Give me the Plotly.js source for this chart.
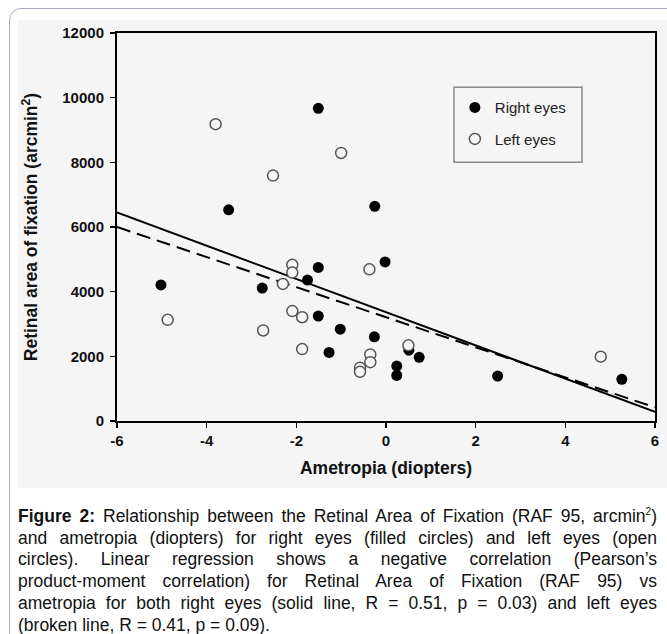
<!DOCTYPE html>
<html>
<head>
<meta charset="utf-8">
<script src="https://cdn.plot.ly/plotly-3.0.1.min.js"></script>
<style>
  html, body { margin: 0; padding: 0; background: #ffffff; width: 667px; height: 634px; overflow: hidden; }
  #frame { position: absolute; left: 9px; top: 8px; width: 720px; height: 700px;
           border: 1.5px solid #a8a8c4; border-radius: 12px; box-sizing: border-box; }
  #chart { position: absolute; left: 18px; top: 20px; width: 649px; height: 468px; }
  #caption { position: absolute; left: 18px; top: 506px; width: 639px;
             font-family: "Liberation Sans", Arial, sans-serif; font-size: 17.5px; line-height: 21.7px;
             color: #111; }
  #caption .ln { text-align: justify; text-align-last: justify; white-space: nowrap; }
  #caption .last { text-align: left; text-align-last: left; white-space: nowrap; }
  #caption sup { font-size: 10px; line-height: 0; }
</style>
</head>
<body>
<div id="frame"></div>
<div id="chart"></div>
<div id="caption">
  <div class="ln"><b>Figure 2:</b> Relationship between the Retinal Area of Fixation (RAF 95, arcmin<sup>2</sup>)</div>
  <div class="ln">and ametropia (diopters) for right eyes (filled circles) and left eyes (open</div>
  <div class="ln">circles). Linear regression shows a negative correlation (Pearson’s</div>
  <div class="ln">product-moment correlation) for Retinal Area of Fixation (RAF 95) vs</div>
  <div class="ln">ametropia for both right eyes (solid line, R = 0.51, p = 0.03) and left eyes</div>
  <div class="last">(broken line, R = 0.41, p = 0.09).</div>
</div>
<script>
// Right eyes (filled circles)
const rightX = [-1.51, -3.51, -0.25, -5.02, -2.76, -1.51, -1.75, -0.02, -1.51, -1.02, -0.26, -1.27, 0.51, 0.74, 0.24, 0.24, 2.49, 5.26];
const rightY = [9670, 6530, 6640, 4210, 4110, 4750, 4360, 4920, 3245, 2840, 2605, 2120, 2190, 1970, 1700, 1410, 1390, 1290];
// Left eyes (open circles)
const leftX = [-3.80, -2.52, -1.00, -4.87, -2.09, -2.09, -2.30, -2.09, -1.87, -2.74, -1.87, -0.37, -0.35, -0.35, -0.58, -0.58, 0.50, 4.79];
const leftY = [9180, 7590, 8290, 3130, 4830, 4590, 4240, 3400, 3210, 2800, 2225, 4690, 2060, 1820, 1650, 1520, 2340, 1990];
// Regression lines (intercept at x=0, slope per diopter)
const lineX = [-6, 6];
const rightFit = { intercept: 3365, slope: -514 };
const leftFit = { intercept: 3210, slope: -465 };
const xTicks = [-6, -4, -2, 0, 2, 4, 6];
const yTicks = [0, 2000, 4000, 6000, 8000, 10000, 12000];

const fitY = f => lineX.map(x => f.intercept + f.slope * x);
const bg = '#f5f5f5';
const font = 'Liberation Sans, Arial, sans-serif';

const traces = [
  { x: lineX, y: fitY(rightFit), mode: 'lines', line: { color: '#000', width: 2 }, showlegend: false, hoverinfo: 'skip' },
  { x: lineX, y: fitY(leftFit), mode: 'lines', line: { color: '#000', width: 2, dash: '14px,7px' }, showlegend: false, hoverinfo: 'skip' },
  { x: rightX, y: rightY, mode: 'markers', name: 'Right eyes', legendgroup: 'r',
    marker: { symbol: 'circle', size: 11, color: '#000', line: { color: '#000', width: 0 } } },
  { x: leftX, y: leftY, mode: 'markers', name: 'Left eyes', legendgroup: 'l',
    marker: { symbol: 'circle', size: 11, color: bg, line: { color: '#555', width: 1.5 } } }
];

const axisCommon = {
  showgrid: false, zeroline: false, showline: true, mirror: true,
  linecolor: '#000', linewidth: 2, ticks: 'outside', ticklen: 5, tickwidth: 1.5, tickcolor: '#000',
  tickfont: { family: font, size: 15, weight: 'bold', color: '#111' }
};

const layout = {
  width: 649, height: 468,
  margin: { l: 99, r: 12, t: 13, b: 67 },
  paper_bgcolor: bg, plot_bgcolor: bg,
  xaxis: Object.assign({}, axisCommon, {
    range: [-6, 6], tickvals: xTicks, ticktext: xTicks.map(String),
    title: { text: 'Ametropia (diopters)', font: { family: font, size: 17.5, weight: 'bold', color: '#111' }, standoff: 14 }
  }),
  yaxis: Object.assign({}, axisCommon, {
    range: [0, 12000], tickvals: yTicks, ticktext: yTicks.map(String), ticklabelstandoff: 3,
    title: { text: 'Retinal area of fixation (arcmin<sup>2</sup>)', font: { family: font, size: 17.5, weight: 'bold', color: '#111' }, standoff: 20 }
  }),
  legend: {
    x: 0.628, y: 0.850, xanchor: 'left', yanchor: 'top',
    bgcolor: 'rgba(0,0,0,0)', borderwidth: 0, itemwidth: 30,
    font: { family: font, size: 15, color: '#222' },
    tracegroupgap: 9, traceorder: 'grouped'
  },
  shapes: [
    { type: 'rect', xref: 'paper', yref: 'paper', x0: 0.6264, x1: 0.8643, y0: 0.667, y1: 0.860,
      line: { color: '#8a8a8a', width: 1.5 }, fillcolor: 'rgba(0,0,0,0)', layer: 'above' }
  ],
  showlegend: true
};

Plotly.newPlot('chart', traces, layout, { displayModeBar: false, staticPlot: true });
</script>
</body>
</html>
